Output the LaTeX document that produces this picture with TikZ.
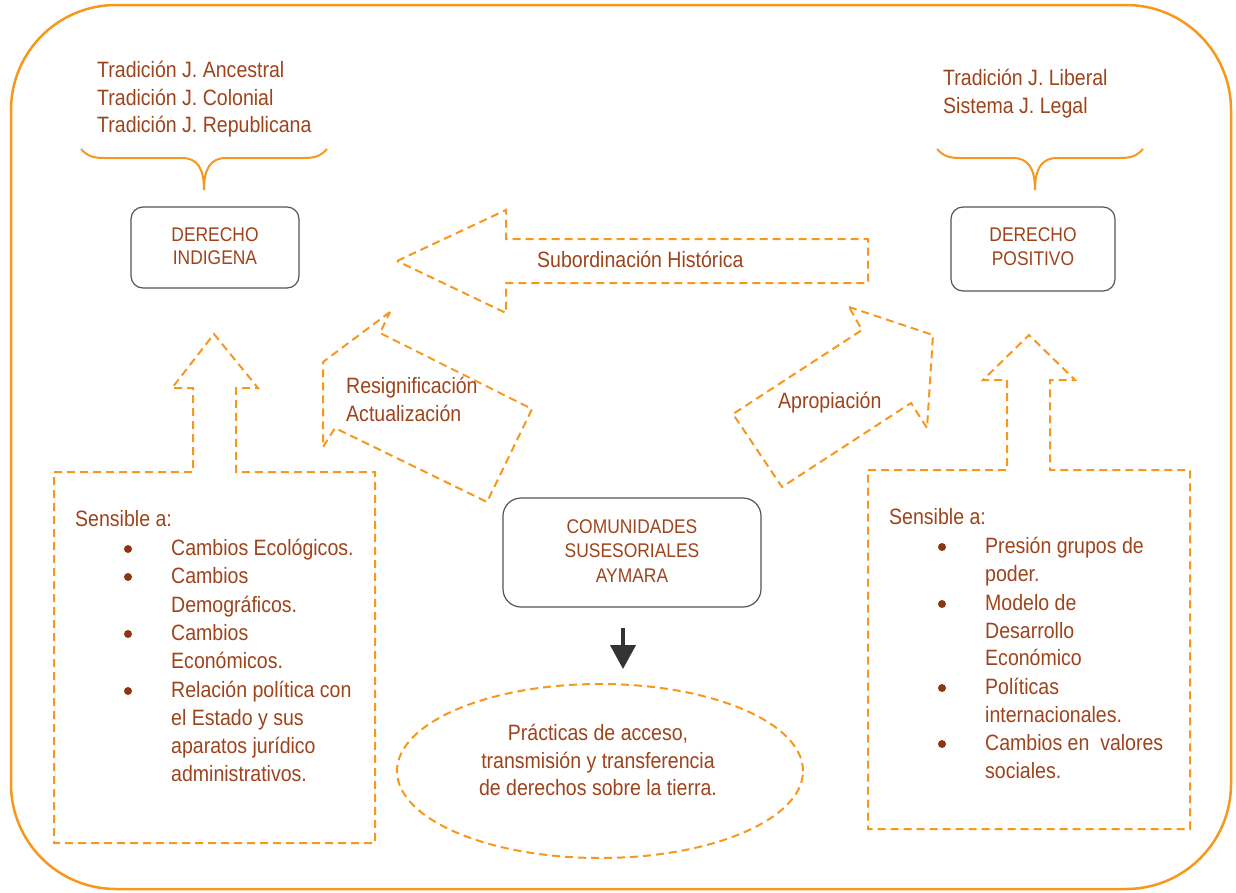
\documentclass[tikz,border=0pt]{standalone}
\usepackage{fontspec}
\setmainfont{Liberation Sans}[FakeStretch=0.88]
\usetikzlibrary{arrows.meta,shapes.geometric}
\definecolor{frameorange}{RGB}{247,152,29}
\definecolor{textbrown}{RGB}{158,68,28}
\definecolor{bulletbrown}{RGB}{140,55,18}
\definecolor{boxgray}{RGB}{85,85,85}
\definecolor{arrowgray}{RGB}{51,51,51}

\begin{document}
\begin{tikzpicture}[x=1pt,y=-1pt,
  txt/.style={inner sep=0pt, text=textbrown, font=\fontsize{22.2}{28}\selectfont},
  lft/.style={txt, anchor=base west},
  ctr/.style={txt, anchor=base},
  dot/.style={circle, fill=bulletbrown, inner sep=0pt, minimum size=8pt},
  boxtxt/.style={inner sep=0pt, text=textbrown, font=\fontsize{19.8}{23}\selectfont, anchor=base},
  dashline/.style={draw=frameorange, line width=2pt, dash pattern=on 8pt off 5pt, line join=miter},
  solidline/.style={draw=frameorange, line width=2.2pt},
  roundbox/.style={draw=boxgray, line width=1.2pt, rounded corners=12pt, fill=white, inner sep=0pt},
]
\useasboundingbox (0,0) rectangle (1236,892);
\fill[white] (0,0) rectangle (1236,892);

% outer frame
\draw[solidline, line width=2.5pt, rounded corners=105pt] (11,5) rectangle (1231,889);

% braces above the two kinds of law
\draw[solidline, line width=2pt] (81,149) .. controls (88,157) and (95,158) .. (105,158) -- (182,158)
  .. controls (197,158) and (204,168) .. (204,190);
\draw[solidline, line width=2pt] (204,190) .. controls (204,168) and (211,158) .. (226,158) -- (303,158)
  .. controls (313,158) and (320,157) .. (327,149);
\draw[solidline, line width=2pt] (937,149) .. controls (944,157) and (951,158) .. (961,158) -- (1013,158)
  .. controls (1028,158) and (1035,168) .. (1035,190);
\draw[solidline, line width=2pt] (1035,190) .. controls (1035,168) and (1042,158) .. (1057,158) -- (1119,158)
  .. controls (1129,158) and (1136,157) .. (1143,149);

% traditions
\node[lft] (ta) at (97,77) {Tradición J. Ancestral};
\node[lft] (tc) at (97,105) {Tradición J. Colonial};
\node[lft] (tr) at (97,132) {Tradición J. Republicana};
\node[lft] (tl) at (943,85) {Tradición J. Liberal};
\node[lft] (sl) at (943,113) {Sistema J. Legal};

% boxes
\node[roundbox, minimum width=168pt, minimum height=81pt] (di) at (215,247.5) {};
\node[boxtxt] (di1) at (215,241) {DERECHO};
\node[boxtxt] (di2) at (215,264) {INDIGENA};

\node[roundbox, minimum width=164pt, minimum height=84pt] (dp) at (1033,249) {};
\node[boxtxt] (dp1) at (1033,241) {DERECHO};
\node[boxtxt] (dp2) at (1033,265) {POSITIVO};

\node[roundbox, rounded corners=18pt, minimum width=258pt, minimum height=109pt] (com) at (632,552.5) {};
\node[boxtxt] (c1) at (632,533) {COMUNIDADES};
\node[boxtxt] (c2) at (632,557) {SUSESORIALES};
\node[boxtxt] (c3) at (632,582) {AYMARA};

% block arrows
\draw[dashline] (397,261) -- (506,210) -- (506,239) -- (868,239) -- (868,283) -- (506,283) -- (506,313) -- cycle;
\node[lft] (sub) at (537,267) {Subordinación Histórica};

\draw[dashline] (390,312) -- (323,362) -- (323,447) -- (335,428) -- (487,502) -- (532,409) -- (380,333) -- cycle;
\node[lft] (res) at (346,393) {Resignificación};
\node[lft] (act) at (346,421) {Actualización};

\draw[dashline] (849,307) -- (933,335) -- (927,428) -- (911,403) -- (782,487) -- (733,414) -- (862,330) -- cycle;
\node[lft] (apr) at (778,408) {Apropiación};

% left panel with upward arrow
\draw[dashline] (54,472) -- (193,472) -- (193,388) -- (172,388) -- (214,334) -- (258,388) -- (236,388)
  -- (236,472) -- (375,472) -- (375,843) -- (54,843) -- cycle;
\node[lft] (ls) at (75,526) {Sensible a:};
\node[dot] (lb1) at (128,549) {};
\node[dot] (lb2) at (128,577) {};
\node[dot] (lb3) at (128,634) {};
\node[dot] (lb4) at (128,691) {};
\node[lft] (l1) at (171,555) {Cambios Ecológicos.};
\node[lft] (l2) at (171,583) {Cambios};
\node[lft] (l3) at (171,612) {Demográficos.};
\node[lft] (l4) at (171,640) {Cambios};
\node[lft] (l5) at (171,668) {Económicos.};
\node[lft] (l6) at (171,697) {Relación política con};
\node[lft] (l7) at (171,725) {el Estado y sus};
\node[lft] (l8) at (171,753) {aparatos jurídico};
\node[lft] (l9) at (171,781) {administrativos.};

% right panel with upward arrow
\draw[dashline] (868,470) -- (1007,470) -- (1007,380) -- (983,380) -- (1029,335) -- (1075,380) -- (1050,380)
  -- (1050,470) -- (1190,470) -- (1190,829) -- (868,829) -- cycle;
\node[lft] (rs) at (889,524) {Sensible a:};
\node[dot] (rb1) at (942,547) {};
\node[dot] (rb2) at (942,604) {};
\node[dot] (rb3) at (942,688) {};
\node[dot] (rb4) at (942,744) {};
\node[lft] (r1) at (985,553) {Presión grupos de};
\node[lft] (r2) at (985,581) {poder.};
\node[lft] (r3) at (985,610) {Modelo de};
\node[lft] (r4) at (985,638) {Desarrollo};
\node[lft] (r5) at (985,665) {Económico};
\node[lft] (r6) at (985,694) {Políticas};
\node[lft] (r7) at (985,722) {internacionales.};
\node[lft] (r8) at (985,750) {Cambios en\ \ valores};
\node[lft] (r9) at (985,778) {sociales.};

% practices ellipse
\node[dashline, ellipse, minimum width=406pt, minimum height=174pt, inner sep=0pt] (ell) at (600,771) {};
\node[ctr] (e1) at (598,740) {Prácticas de acceso,};
\node[ctr] (e2) at (598,768) {transmisión y transferencia};
\node[ctr] (e3) at (598,795) {de derechos sobre la tierra.};

% arrow from the communities to their practices
\coordinate (arrS) at (623,628);
\coordinate (arrE) at (623,669);
\draw[draw=arrowgray, line width=4pt, -{Triangle[width=25pt,length=24pt]}] (arrS) -- (arrE);
\end{tikzpicture}
\end{document}
